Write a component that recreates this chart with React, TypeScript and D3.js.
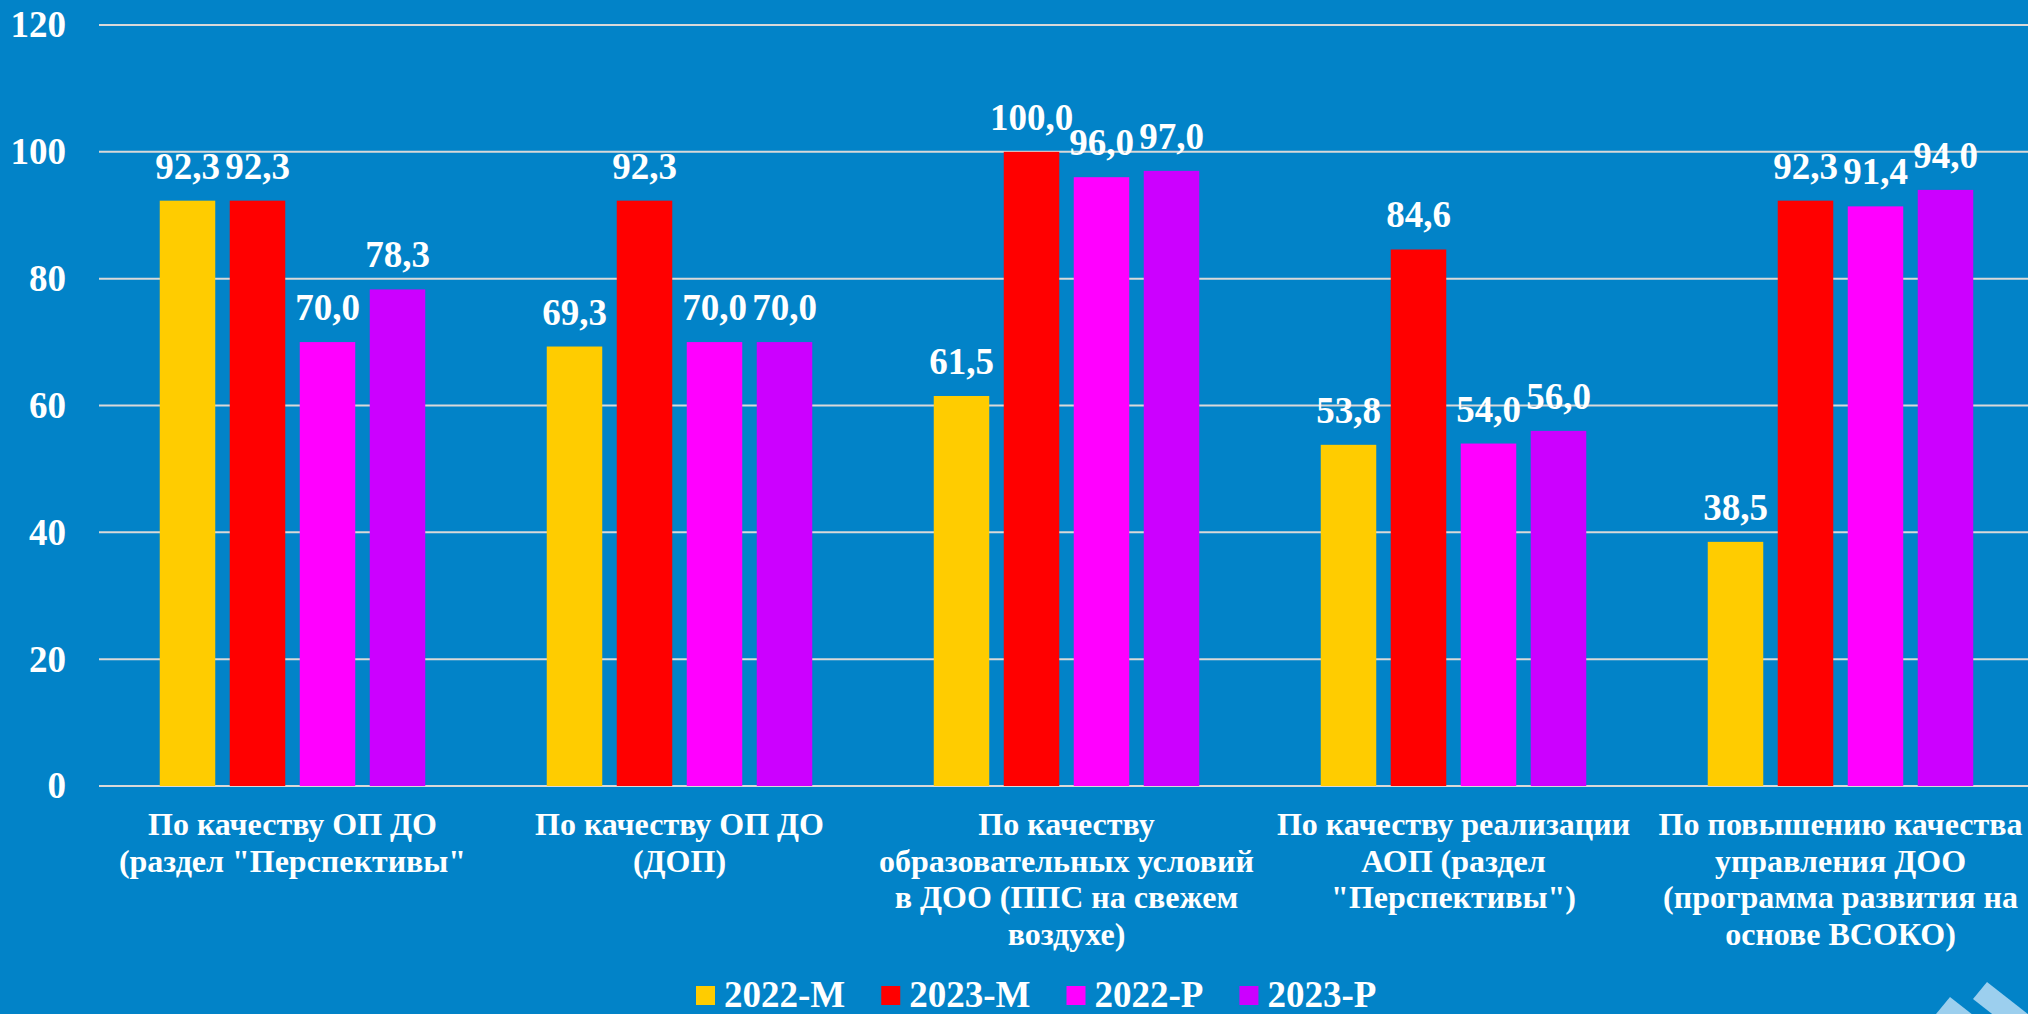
import { useEffect, useRef } from "react";
import * as d3 from "d3";

const categories = [
  "По качеству ОП ДО\n(раздел \"Перспективы\"",
  "По качеству ОП ДО\n(ДОП)",
  "По качеству\nобразовательных условий\nв ДОО (ППС на свежем\nвоздухе)",
  "По качеству реализации\nАОП (раздел\n\"Перспективы\")",
  "По повышению качества\nуправления ДОО\n(программа развития на\nоснове ВСОКО)",
];

const seriesNames = ["2022-М", "2023-М", "2022-Р", "2023-Р"];
const seriesColors = ["#FFCC00", "#FF0000", "#FF00FF", "#CC00FF"];

const values2022M = [92.3, 69.3, 61.5, 53.8, 38.5];
const values2023M = [92.3, 92.3, 100.0, 84.6, 92.3];
const values2022P = [70.0, 70.0, 96.0, 54.0, 91.4];
const values2023P = [78.3, 70.0, 97.0, 56.0, 94.0];

const yTicks = [0, 20, 40, 60, 80, 100, 120];

const W = 2028;
const H = 1014;
const FONT = "'Liberation Serif', 'Times New Roman', serif";

export default function App() {
  const svgRef = useRef<SVGSVGElement>(null);

  useEffect(() => {
    if (!svgRef.current) return;
    const svg = d3.select(svgRef.current);
    svg.selectAll("*").remove();

    const allSeries = [values2022M, values2023M, values2022P, values2023P];

    svg.append("rect").attr("width", W).attr("height", H).attr("fill", "#0283C8");

    // decorative stripes bottom right (slide background)
    const stripes = [
      [[1936, 1014], [1950, 997], [2010, 1044], [1996, 1061]],
      [[1973, 999], [1987, 982], [2047, 1029], [2033, 1046]],
    ];
    svg
      .append("g")
      .selectAll("polygon")
      .data(stripes)
      .join("polygon")
      .attr("points", (d) => d.map((p) => p.join(",")).join(" "))
      .attr("fill", "#9CCFEE");

    const plotLeft = 99;
    const plotRight = 2034;

    const x = d3.scaleBand().domain(categories).range([plotLeft, plotRight]).padding(0);
    const y = d3.scaleLinear().domain([0, 120]).range([786, 25]);

    const xSub = d3
      .scaleBand()
      .domain(seriesNames)
      .range([x.bandwidth() / 2 - 140, x.bandwidth() / 2 + 140])
      .paddingInner(0.207)
      .paddingOuter(0.1035);

    // grid lines
    svg
      .append("g")
      .selectAll("line")
      .data(yTicks)
      .join("line")
      .attr("x1", plotLeft)
      .attr("x2", W)
      .attr("y1", (d) => y(d))
      .attr("y2", (d) => y(d))
      .attr("stroke", "#D9D9D9")
      .attr("stroke-width", 2);

    // y axis labels
    svg
      .append("g")
      .attr("transform", "translate(66,0)")
      .call(d3.axisLeft(y).tickValues(yTicks).tickSize(0).tickPadding(0).tickFormat((d) => String(d)))
      .call((a) => a.select(".domain").remove())
      .selectAll("text")
      .style("font-family", FONT)
      .style("font-size", "37px")
      .style("font-weight", "bold")
      .attr("fill", "#FFFFFF");

    // bars
    const groups = svg
      .append("g")
      .selectAll("g")
      .data(categories)
      .join("g")
      .attr("transform", (c) => `translate(${x(c) || 0},0)`);

    seriesNames.forEach((s, si) => {
      groups
        .append("rect")
        .attr("x", xSub(s) || 0)
        .attr("width", xSub.bandwidth())
        .attr("y", (_, i) => y(allSeries[si][i]))
        .attr("height", (_, i) => y(0) - y(allSeries[si][i]))
        .attr("fill", seriesColors[si]);

      groups
        .append("text")
        .attr("x", (xSub(s) || 0) + xSub.bandwidth() / 2)
        .attr("y", (_, i) => y(allSeries[si][i]) - 22)
        .attr("text-anchor", "middle")
        .style("font-family", FONT)
        .style("font-size", "37px")
        .style("font-weight", "bold")
        .attr("fill", "#FFFFFF")
        .text((_, i) => allSeries[si][i].toFixed(1).replace(".", ","));
    });

    // category labels
    categories.forEach((c) => {
      const cx = (x(c) || 0) + x.bandwidth() / 2;
      const t = svg
        .append("text")
        .attr("text-anchor", "middle")
        .style("font-family", FONT)
        .style("font-size", "32px")
        .style("font-weight", "bold")
        .attr("fill", "#FFFFFF");
      c.split("\n").forEach((line, li) => {
        t.append("tspan").attr("x", cx).attr("y", 835 + li * 36.5).text(line);
      });
    });

    // legend
    const legend = svg.append("g");
    let lx = 696;
    seriesNames.forEach((s, si) => {
      legend
        .append("rect")
        .attr("x", lx)
        .attr("y", 986)
        .attr("width", 19)
        .attr("height", 19)
        .attr("fill", seriesColors[si]);
      const txt = legend
        .append("text")
        .attr("x", lx + 28)
        .attr("y", 1007)
        .style("font-family", FONT)
        .style("font-size", "37px")
        .style("font-weight", "bold")
        .attr("fill", "#FFFFFF")
        .text(s);
      const w = (txt.node() as SVGTextElement).getComputedTextLength();
      lx += 28 + w + 36;
    });
  }, []);

  return (
    <svg
      ref={svgRef}
      width={W}
      height={H}
      style={{ position: "absolute", left: 0, top: 0, display: "block" }}
    />
  );
}
